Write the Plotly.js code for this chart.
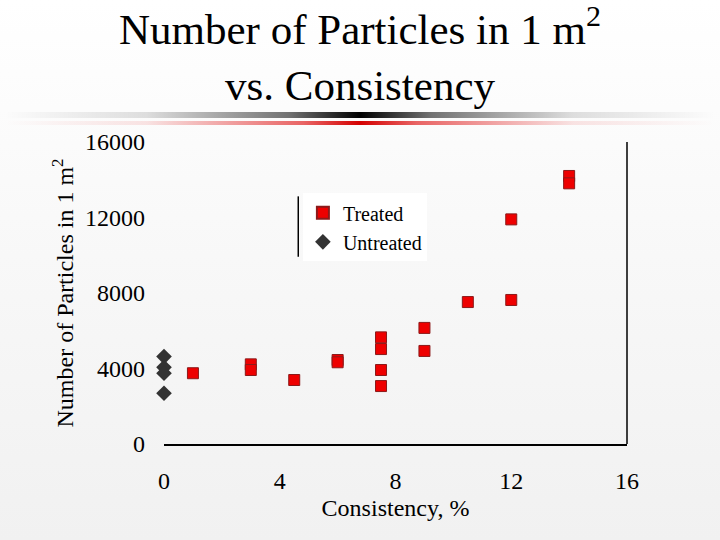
<!DOCTYPE html>
<html>
<head>
<meta charset="utf-8">
<script src="https://cdn.plot.ly/plotly-3.0.1.min.js"></script>
<style>
  html, body { margin: 0; padding: 0; }
  body { width: 720px; height: 540px; background: linear-gradient(#ffffff 0%, #f9f9f9 40%, #f1f1f1 100%); position: relative; overflow: hidden; }
  #chart { position: absolute; left: 0; top: 0; width: 720px; height: 540px; }
  .bar1 { position: absolute; left: 5px; width: 710px; top: 112px; height: 6px;
    background: linear-gradient(to right, rgba(0,0,0,0) 0%, rgba(0,0,0,0.12) 20%, rgba(0,0,0,0.55) 40%, #000 50%, rgba(0,0,0,0.55) 60%, rgba(0,0,0,0.12) 80%, rgba(0,0,0,0) 100%); }
  .bar2 { position: absolute; left: 5px; width: 710px; top: 121px; height: 4px;
    background: linear-gradient(to right, rgba(220,0,0,0) 0%, rgba(220,0,0,0.1) 20%, rgba(220,0,0,0.6) 42%, #d40000 50%, rgba(220,0,0,0.6) 58%, rgba(220,0,0,0.1) 80%, rgba(220,0,0,0) 100%); }
</style>
</head>
<body>
<div class="bar1"></div>
<div class="bar2"></div>
<div id="chart"></div>
<script>
// Data
const treatedX = [1, 3, 3, 4.5, 6, 6, 7.5, 7.5, 7.5, 7.5, 9, 9, 10.5, 12, 12, 14, 14];
const treatedY = [3750, 4220, 3920, 3390, 4450, 4330, 5650, 5030, 3920, 3070, 6150, 4930, 7520, 11900, 7630, 14200, 13810];
const untreatedX = [0, 0, 0, 0];
const untreatedY = [4630, 4060, 3750, 2690];
const xTicks = [0, 4, 8, 12, 16];
const yTicks = [0, 4000, 8000, 12000, 16000];

const serif = '"Liberation Serif", "Times New Roman", serif';

const traces = [
  {
    x: treatedX, y: treatedY, name: 'Treated', type: 'scatter', mode: 'markers', cliponaxis: false,
    marker: { symbol: 'square', size: 11, color: '#ee0000', line: { color: '#8b1a1a', width: 1 } }
  },
  {
    x: untreatedX, y: untreatedY, name: 'Untreated', type: 'scatter', mode: 'markers', cliponaxis: false,
    marker: { symbol: 'diamond', size: 12, color: '#333333', line: { width: 0 } }
  }
];

const layout = {
  width: 720, height: 540,
  paper_bgcolor: 'rgba(0,0,0,0)', plot_bgcolor: 'rgba(0,0,0,0)',
  margin: { l: 164, r: 93, t: 142, b: 96 },
  font: { family: serif, color: '#000' },
  title: {
    text: 'Number of Particles in 1 m<sup>2</sup><br>vs. Consistency',
    font: { family: serif, size: 43, color: '#000' },
    x: 0.5, xanchor: 'center', y: 0.918, yanchor: 'top'
  },
  showlegend: true,
  legend: {
    x: 0.30, y: 0.83, xanchor: 'left', yanchor: 'top',
    bgcolor: '#ffffff', borderwidth: 0,
    font: { family: serif, size: 20, color: '#000' },
    tracegroupgap: 0, itemsizing: 'constant'
  },
  xaxis: {
    range: [0, 16], tickvals: xTicks, ticktext: xTicks.map(String),
    showgrid: false, zeroline: false, showline: true, linecolor: '#000', linewidth: 1.5,
    ticks: '', ticklabelstandoff: 15,
    tickfont: { family: serif, size: 24, color: '#000' },
    title: { text: 'Consistency, %', font: { family: serif, size: 24, color: '#000' }, standoff: 6 },
    mirror: false
  },
  yaxis: {
    range: [0, 16000], tickvals: yTicks, ticktext: yTicks.map(String),
    showgrid: false, zeroline: false, showline: false,
    ticks: '', ticklabelstandoff: 18,
    tickfont: { family: serif, size: 24, color: '#000' },
    title: { text: 'Number of Particles in 1 m<sup>2</sup>', font: { family: serif, size: 24, color: '#000' }, standoff: 4 }
  },
  shapes: [
    { type: 'line', xref: 'paper', yref: 'paper', x0: 1, x1: 1, y0: 0, y1: 1, line: { color: '#000', width: 1.5 } },
    { type: 'line', xref: 'paper', yref: 'paper', x0: 0.290, x1: 0.290, y0: 0.62, y1: 0.82, line: { color: '#000', width: 1.5 } }
  ]
};

Plotly.newPlot('chart', traces, layout, { displayModeBar: false, staticPlot: true });
</script>
</body>
</html>
